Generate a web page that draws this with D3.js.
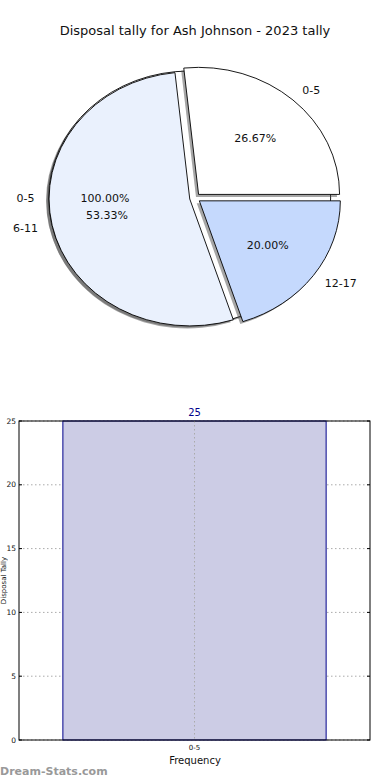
<!DOCTYPE html>
<html>
<head>
<meta charset="utf-8">
<script src="https://cdn.jsdelivr.net/npm/d3@7.8.5/dist/d3.min.js"></script>
<style>
  html, body { margin: 0; padding: 0; background: #fff; }
  svg { display: block; font-family: "DejaVu Sans", sans-serif; }
</style>
</head>
<body>
<div id="chart"></div>
<script>
// Data
const chartTitle = 'Disposal tally for Ash Johnson - 2023 tally';
const basePieLabels = ['0-5'];
const basePieValues = [1];
const pieLabels = ['0-5', '6-11', '12-17'];
const pieValues = [4, 8, 3];
const pieColors = ['#ffffff', '#eaf1fd', '#c5d9fd'];
const barCategories = ['0-5'];
const barValues = [25];
const yTicks = [0, 5, 10, 15, 20, 25];

const width = 390, height = 780;
const svg = d3.select('#chart').append('svg')
    .attr('width', width)
    .attr('height', height);

svg.append('text')
    .attr('x', 195)
    .attr('y', 35)
    .attr('text-anchor', 'middle')
    .style('font-size', '13px')
    .style('fill', '#111')
    .text(chartTitle);

// ---- Pie (elliptical, matplotlib style) ----
const cx = 195, cy = 198, rx = 141, ry = 127;
const explode = 0.038;

const pie = d3.pie().sort(null)
    .startAngle(Math.PI / 2)
    .endAngle(Math.PI / 2 - 2 * Math.PI);
const unitArc = d3.arc().innerRadius(0).outerRadius(1);

const wedgeLayer = svg.append('g');
const labelLayer = svg.append('g');

function drawPie(values, labels, colors, pieExplode) {
    const arcs = pie(values);
    const total = d3.sum(values);
    const g = wedgeLayer.append('g');
    arcs.forEach((a, i) => {
        const m = (a.startAngle + a.endAngle) / 2;
        const px = cx + Math.sin(m) * pieExplode * rx;
        const py = cy - Math.cos(m) * pieExplode * ry;
        const full = Math.abs(a.endAngle - a.startAngle) >= 2 * Math.PI - 1e-6;
        const d = full ? null : unitArc(a);

        // shadow
        const shadow = g.append(full ? 'ellipse' : 'path')
            .attr('transform', `translate(${px - 2.6},${py + 2.5}) scale(${rx},${ry})`)
            .attr('fill', '#4d4d4d')
            .attr('opacity', 0.5);
        if (full) shadow.attr('rx', 1).attr('ry', 1); else shadow.attr('d', d);

        const wedge = g.append(full ? 'ellipse' : 'path')
            .attr('transform', `translate(${px},${py}) scale(${rx},${ry})`)
            .attr('fill', colors[i % colors.length])
            .attr('stroke', '#000')
            .attr('stroke-width', 0.9)
            .attr('vector-effect', 'non-scaling-stroke');
        if (full) wedge.attr('rx', 1).attr('ry', 1); else wedge.attr('d', d);
    });
    // labels sit above all wedges
    arcs.forEach((a, i) => {
        const m = (a.startAngle + a.endAngle) / 2;
        const sx = Math.sin(m), sy = -Math.cos(m);
        const px = cx + sx * pieExplode * rx, py = cy + sy * pieExplode * ry;
        labelLayer.append('text')
            .attr('x', px + 1.1 * rx * sx)
            .attr('y', py + 1.1 * ry * sy)
            .attr('dy', '0.35em')
            .attr('text-anchor', sx < -1e-6 ? 'end' : 'start')
            .style('font-size', '11px')
            .style('fill', '#111')
            .text(labels[i]);
        labelLayer.append('text')
            .attr('x', px + 0.6 * rx * sx)
            .attr('y', py + 0.6 * ry * sy)
            .attr('dy', '0.35em')
            .attr('text-anchor', 'middle')
            .style('font-size', '11px')
            .style('fill', '#111')
            .text((a.data / total * 100).toFixed(2) + '%');
    });
}

drawPie(basePieValues, basePieLabels, ['#ffffff'], explode);
drawPie(pieValues, pieLabels, pieColors, explode);

// ---- Bar chart ----
const m = { left: 19, right: 370, top: 421, bottom: 740 };
const x = d3.scaleBand().domain(barCategories).range([m.left, m.right]).padding(0);
const y = d3.scaleLinear().domain([0, 25]).range([m.bottom, m.top]);
const barW = x.bandwidth() * 0.75;

const bar = svg.append('g');

// grid
bar.selectAll('.hgrid').data(yTicks).enter().append('line')
    .attr('x1', m.left).attr('x2', m.right)
    .attr('y1', d => y(d)).attr('y2', d => y(d))
    .attr('stroke', '#aaa').attr('stroke-width', 1)
    .attr('stroke-dasharray', '1.5,2.5');

bar.selectAll('.bar').data(barValues).enter().append('rect')
    .attr('x', (d, i) => x(barCategories[i]) + (x.bandwidth() - barW) / 2)
    .attr('y', d => y(d))
    .attr('width', barW)
    .attr('height', d => y(0) - y(d))
    .attr('fill', '#ccccE5')
    .attr('stroke', '#00008b')
    .attr('stroke-width', 1);

bar.selectAll('.vgrid').data(barCategories).enter().append('line')
    .attr('x1', d => x(d) + x.bandwidth() / 2).attr('x2', d => x(d) + x.bandwidth() / 2)
    .attr('y1', m.top).attr('y2', m.bottom)
    .attr('stroke', '#aaa').attr('stroke-width', 1)
    .attr('stroke-dasharray', '1.5,2.5');

bar.selectAll('.val').data(barValues).enter().append('text')
    .attr('x', (d, i) => x(barCategories[i]) + x.bandwidth() / 2)
    .attr('y', d => y(d) - 5)
    .attr('text-anchor', 'middle')
    .style('font-size', '10px')
    .style('fill', '#00008b')
    .text(d => d);

// frame
bar.append('rect')
    .attr('x', m.left).attr('y', m.top)
    .attr('width', m.right - m.left).attr('height', m.bottom - m.top)
    .attr('fill', 'none').attr('stroke', '#000').attr('stroke-width', 1);

// y ticks
const yt = bar.selectAll('.yt').data(yTicks).enter().append('g');
yt.append('line')
    .attr('x1', m.left).attr('x2', m.left + 3)
    .attr('y1', d => y(d)).attr('y2', d => y(d))
    .attr('stroke', '#000');
yt.append('line')
    .attr('x1', m.right - 3).attr('x2', m.right)
    .attr('y1', d => y(d)).attr('y2', d => y(d))
    .attr('stroke', '#000');
yt.append('text')
    .attr('x', m.left - 3)
    .attr('y', d => y(d))
    .attr('dy', '0.35em')
    .attr('text-anchor', 'end')
    .style('font-size', '7.5px')
    .style('fill', '#111')
    .text(d => d);

// x ticks
bar.selectAll('.xt').data(barCategories).enter().append('text')
    .attr('x', d => x(d) + x.bandwidth() / 2)
    .attr('y', m.bottom + 10)
    .attr('text-anchor', 'middle')
    .style('font-size', '7px')
    .style('fill', '#111')
    .text(d => d);

svg.append('text')
    .attr('x', 195)
    .attr('y', 764)
    .attr('text-anchor', 'middle')
    .style('font-size', '10px')
    .style('fill', '#111')
    .text('Frequency');

svg.append('text')
    .attr('transform', `translate(6,${(m.top + m.bottom) / 2}) rotate(-90)`)
    .attr('text-anchor', 'middle')
    .style('font-size', '7px')
    .style('fill', '#111')
    .text('Disposal Tally');

svg.append('text')
    .attr('x', 0)
    .attr('y', 775)
    .style('font-size', '11px')
    .style('font-weight', 'bold')
    .style('fill', '#999')
    .text('Dream-Stats.com');
</script>
</body>
</html>
